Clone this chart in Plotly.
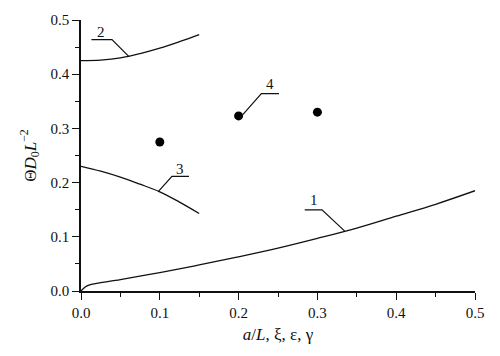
import plotly.graph_objects as go

# Curve 1
x1 = [0.0, 0.005, 0.01, 0.05, 0.1, 0.15, 0.2, 0.25, 0.3, 0.35, 0.4, 0.45, 0.5]
y1 = [0.0, 0.007, 0.011, 0.021, 0.034, 0.048, 0.063, 0.079, 0.097, 0.116, 0.138, 0.160, 0.185]
# Curve 2
x2 = [0.0, 0.025, 0.05, 0.075, 0.1, 0.125, 0.15]
y2 = [0.425, 0.426, 0.430, 0.438, 0.448, 0.460, 0.473]
# Curve 3
x3 = [0.0, 0.025, 0.05, 0.075, 0.1, 0.125, 0.15]
y3 = [0.230, 0.221, 0.210, 0.197, 0.183, 0.164, 0.143]
# Points 4
x4 = [0.1, 0.2, 0.3]
y4 = [0.275, 0.323, 0.330]

labels = ["1", "2", "3", "4"]

fig = go.Figure()
line = dict(color="#111", width=1.3)
fig.add_trace(go.Scatter(x=x1, y=y1, mode="lines", line=line, line_shape="spline"))
fig.add_trace(go.Scatter(x=x2, y=y2, mode="lines", line=line, line_shape="spline"))
fig.add_trace(go.Scatter(x=x3, y=y3, mode="lines", line=line, line_shape="spline"))
fig.add_trace(go.Scatter(x=x4, y=y4, mode="markers", marker=dict(color="black", size=9)))

# leader lines (label callouts)
leaders = [
    ([0.2839, 0.3058, 0.3347], [0.1498, 0.1498, 0.1105], (0.2953, 0.168)),
    ([0.0132, 0.0393, 0.0609], [0.4638, 0.4638, 0.4324], (0.0259, 0.477)),
    ([0.0977, 0.1154, 0.1370], [0.1830, 0.2114, 0.2114], (0.1253, 0.226)),
    ([0.2014, 0.2289, 0.2513], [0.3188, 0.3641, 0.3641], (0.2394, 0.382)),
]
shapes = []
annotations = []
for lab, (lx, ly, (tx, ty)) in zip(labels, leaders):
    path = "M %f,%f L %f,%f L %f,%f" % (lx[0], ly[0], lx[1], ly[1], lx[2], ly[2])
    shapes.append(dict(type="path", path=path, xref="x", yref="y",
                       line=dict(color="#111", width=1.2)))
    annotations.append(dict(x=tx, y=ty, xref="x", yref="y", text=lab, showarrow=False,
                            font=dict(family="Liberation Serif", size=15, color="#111")))

axis_common = dict(
    showgrid=False, zeroline=False, showline=True, linecolor="#111", linewidth=1.5,
    ticks="outside", ticklen=7, tickwidth=1.3, tickcolor="#111",
    tickfont=dict(family="Liberation Serif", size=15, color="#111"),
    tickformat=".1f", dtick=0.1, tick0=0,
    minor=dict(ticks="outside", ticklen=4, tickwidth=1.3, tickcolor="#111", dtick=0.05, showgrid=False),
)

fig.update_layout(
    width=500, height=356,
    margin=dict(l=81, r=25, t=15, b=65),
    paper_bgcolor="white", plot_bgcolor="white",
    showlegend=False,
    shapes=shapes, annotations=annotations,
    xaxis=dict(range=[0, 0.5], title=dict(text="<i>a</i>/<i>L</i>, ξ, ε, γ",
               font=dict(family="Liberation Serif", size=17, color="#111"), standoff=8),
               **axis_common),
    yaxis=dict(range=[0, 0.5], title=dict(text="Θ<i>D</i><sub>0</sub><i>L</i><sup>−2</sup>",
               font=dict(family="Liberation Serif", size=17, color="#111"), standoff=10),
               **axis_common),
)

fig.write_html("out.html", config={"displayModeBar": False},
               post_script="document.body.style.margin='0';document.body.style.overflow='hidden';")
